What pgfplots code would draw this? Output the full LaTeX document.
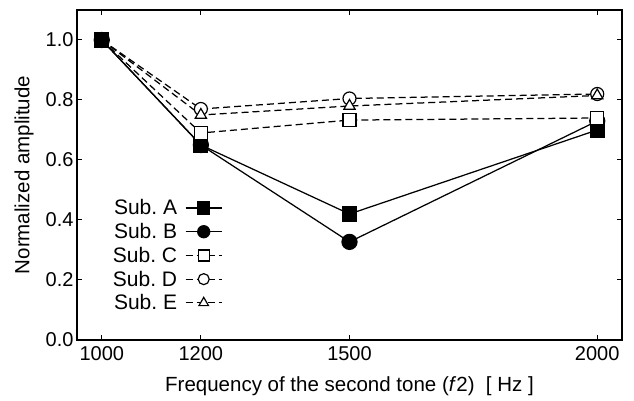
\documentclass[border=0pt]{standalone}
\usepackage{pgfplots}
\pgfplotsset{compat=1.18}
\usepackage{fontspec}
\setmainfont{Liberation Sans}

\begin{document}
\begin{tikzpicture}[x=1pt,y=1pt]
\path[use as bounding box] (0,0) rectangle (634,401);
\begin{axis}[
  at={(77pt,61pt)}, anchor=south west,
  scale only axis, width=545pt, height=330pt,
  xmin=950, xmax=2050, ymin=0, ymax=1.1,
  xtick={1000,1200,1500,2000},
  ytick={0,0.2,0.4,0.6,0.8,1.0},
  tick align=inside, major tick length=5pt,
  tick style={line width=1pt, black},
  axis line style={line width=1.3pt},
  /pgf/number format/assume math mode=true,
  /pgf/number format/1000 sep={},
  yticklabel style={/pgf/number format/fixed, /pgf/number format/fixed zerofill, /pgf/number format/precision=1},
  tick label style={font=\fontsize{20}{22}\selectfont},
  xticklabel style={yshift=-3pt},
  label style={font=\fontsize{20.5}{22}\selectfont},
  xlabel={Frequency of the second tone (\textit{f}2)\ \ [ Hz ]},
  ylabel={Normalized amplitude},
  ylabel style={at={(axis description cs:-0.097,0.5)}, anchor=center},
  xlabel style={at={(axis description cs:0.5,-0.14)}, anchor=center},
  legend plot pos=right,
  legend cell align=right,
  legend style={draw=none, fill=none, at={(0.06,0.435)}, anchor=north west,
    font=\fontsize{21}{23}\selectfont, row sep=3pt, column sep=6pt, inner sep=1pt},
  legend image code/.code={
    \draw[mark repeat=2, mark phase=2, #1] plot coordinates {(0pt,0pt) (18pt,0pt) (36pt,0pt)};
  },
  every axis plot/.append style={line width=1.25pt, black},
  dashstyle/.style={dash pattern=on 7pt off 4pt, mark phase=2,
    mark options={solid, fill=white, line width=1.2pt}},
  styleA/.style={mark=square*, mark size=7pt, mark options={fill=black}},
  styleB/.style={mark=*, mark size=7.5pt, mark options={fill=black}},
  styleC/.style={dashstyle, mark=square*, mark size=6.5pt},
  styleD/.style={dashstyle, mark=*, mark size=6.5pt},
  styleE/.style={dashstyle, mark=triangle*, mark size=6.5pt},
]
% legend entries, in subject order
\addlegendimage{line width=1.25pt, black, styleA, mark size=6pt}
\addlegendentry{Sub.\ A}
\addlegendimage{line width=1.25pt, black, styleB, mark size=6pt}
\addlegendentry{Sub.\ B}
\addlegendimage{line width=1.25pt, black, styleC, mark size=5.5pt}
\addlegendentry{Sub.\ C}
\addlegendimage{line width=1.25pt, black, styleD, mark size=5.5pt}
\addlegendentry{Sub.\ D}
\addlegendimage{line width=1.25pt, black, styleE, mark size=5.5pt}
\addlegendentry{Sub.\ E}
% Subject B
\addplot[styleB, forget plot] coordinates {
  (1000,1.0) (1200,0.65) (1500,0.327) (2000,0.73)};
% Subject A
\addplot[styleA, forget plot] coordinates {
  (1000,1.0) (1200,0.65) (1500,0.42) (2000,0.70)};
% Subject C
\addplot[styleC, forget plot] coordinates {
  (1000,1.0) (1200,0.69) (1500,0.733) (2000,0.74)};
% Subject D
\addplot[styleD, forget plot] coordinates {
  (1000,1.0) (1200,0.77) (1500,0.805) (2000,0.82)};
% Subject E
\addplot[styleE, forget plot] coordinates {
  (1000,1.0) (1200,0.75) (1500,0.78) (2000,0.815)};
\end{axis}
\end{tikzpicture}
\end{document}
